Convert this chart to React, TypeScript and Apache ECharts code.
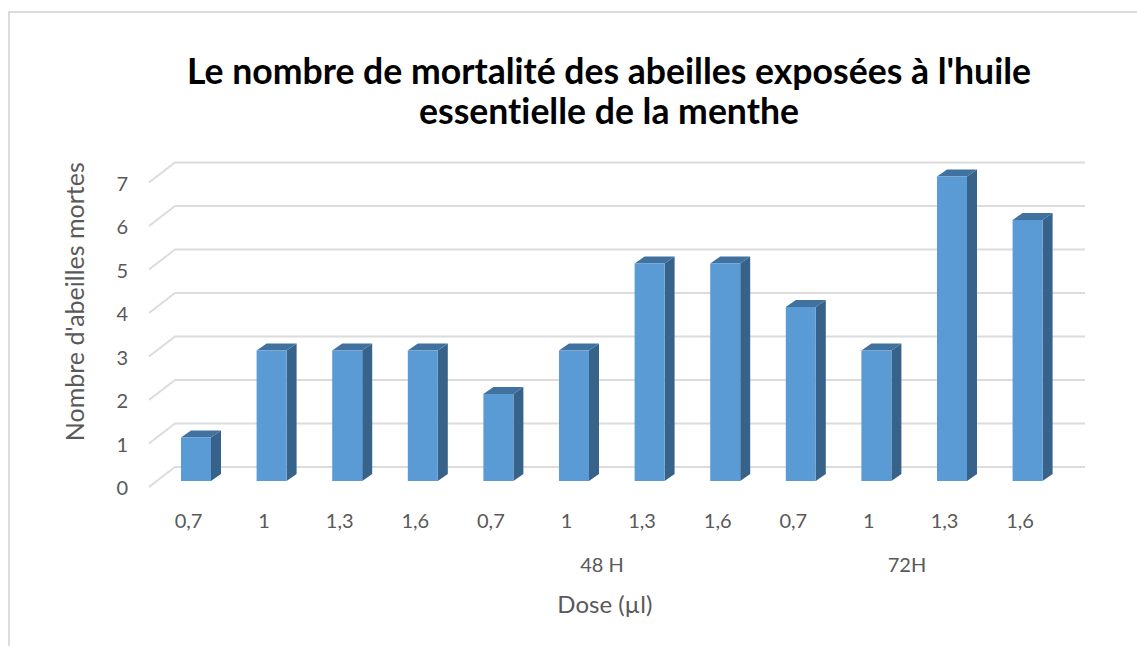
import React, { useEffect, useRef } from "react";
import * as echarts from "echarts";

const titleText = "Le nombre de mortalité des abeilles exposées à l'huile\nessentielle de la menthe";
const doseLabels = ["0,7", "1", "1,3", "1,6", "0,7", "1", "1,3", "1,6", "0,7", "1", "1,3", "1,6"];
const deadBees = [1, 3, 3, 3, 2, 3, 5, 5, 4, 3, 7, 6];
const yTicks = [0, 1, 2, 3, 4, 5, 6, 7];
const groupLabels = [
  { text: "48 H", x: 602 },
  { text: "72H", x: 907 },
];
const xName = "Dose (µl)";
const yName = "Nombre d'abeilles mortes";

const FONT = "Lato, Carlito, 'Open Sans', sans-serif";
const TEXT = "#595959";
const GRID = "#dcdcdc";

export default function App() {
  const ref = useRef<HTMLDivElement>(null);
  useEffect(() => {
    const chart = echarts.init(ref.current!, undefined, { renderer: "svg" });
    chart.setOption({
      animation: false,
      backgroundColor: "#ffffff",
      textStyle: { fontFamily: FONT },
      title: {
        text: titleText,
        left: 604,
        top: 45,
        textAlign: "center",
        textStyle: { fontFamily: FONT, fontSize: 35.6, fontWeight: "bold", color: "#000000", lineHeight: 40 },
      },
      grid: { left: 158.2, top: 176.5, width: 907.2, height: 304.5, containLabel: false },
      xAxis: {
        type: "category",
        data: doseLabels,
        axisLine: { show: false },
        axisTick: { show: false },
        axisLabel: { color: TEXT, fontSize: 20, fontFamily: FONT, margin: 29, interval: 0, padding: [0, 15, 0, 0] },
        name: xName,
        nameLocation: "middle",
        nameGap: 110,
        nameTextStyle: { color: TEXT, fontSize: 24, fontFamily: FONT, padding: [0, 14, 0, 0] },
      },
      yAxis: {
        type: "value",
        min: 0,
        max: 7,
        interval: 1,
        axisLine: { show: false },
        axisTick: { show: false },
        splitLine: { show: false },
        axisLabel: {
          color: TEXT,
          fontSize: 20,
          fontFamily: FONT,
          margin: 30,
          verticalAlign: "top",
          lineHeight: 12,
        },
        name: yName,
        nameLocation: "middle",
        nameGap: 72,
        nameTextStyle: { color: TEXT, fontSize: 25, fontFamily: FONT, padding: [0, 0, 0, 54] },
      },
      graphic: [
        {
          type: "polyline",
          silent: true,
          shape: { points: [[9, 646], [9, 12], [1137, 12]] },
          style: { stroke: GRID, lineWidth: 2, fill: "none" },
        },
        ...groupLabels.map((g) => ({
          type: "text",
          silent: true,
          x: g.x,
          y: 564,
          style: { text: g.text, fill: TEXT, font: `20px ${FONT}`, textAlign: "center", textVerticalAlign: "middle" },
        })),
      ],
      series: [
        {
          type: "custom",
          z: 1,
          silent: true,
          data: yTicks.map((v) => [0, v]),
          encode: { x: 0, y: 1 },
          renderItem: (params: any, api: any) => {
            const y = api.coord([0, api.value(1)])[1];
            const points = [
              [149, y + 6],
              [175, y - 14],
              [1085, y - 14],
            ];
            return {
              type: "polyline",
              shape: { points },
              style: { stroke: GRID, lineWidth: 2, fill: "none" },
            };
          },
        },
        {
          type: "custom",
          z: 2,
          silent: true,
          data: deadBees.map((v, i) => [i, v]),
          encode: { x: 0, y: 1 },
          renderItem: (params: any, api: any) => {
            const top = api.coord([api.value(0), api.value(1)]);
            const base = api.coord([api.value(0), 0]);
            const w = 30;
            const dx = 10;
            const dy = 7;
            const l = top[0] - w / 2;
            const r = top[0] + w / 2;
            return {
              type: "group",
              children: [
                {
                  type: "polygon",
                  shape: { points: [[r, top[1]], [r + dx, top[1] - dy], [r + dx, base[1] - dy], [r, base[1]]] },
                  style: { fill: "#37638A" },
                },
                {
                  type: "polygon",
                  shape: { points: [[l, top[1]], [l + dx, top[1] - dy], [r + dx, top[1] - dy], [r, top[1]]] },
                  style: { fill: "#41729F" },
                },
                {
                  type: "rect",
                  shape: { x: l, y: top[1], width: w, height: base[1] - top[1] },
                  style: { fill: "#5B9BD5" },
                },
              ],
            };
          },
        },
      ],
    });
    return () => chart.dispose();
  }, []);
  return (
    <div
      ref={ref}
      style={{ position: "fixed", left: 0, top: 0, width: 1137, height: 646, fontVariantLigatures: "none" }}
    />
  );
}
